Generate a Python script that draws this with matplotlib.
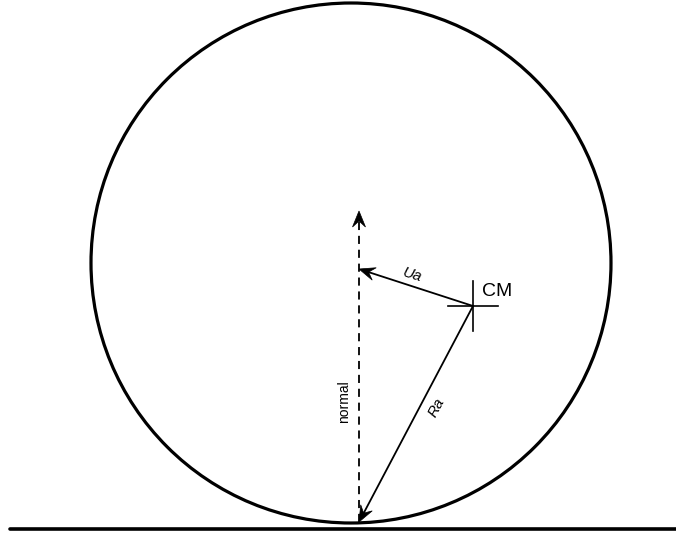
"""Rolling body diagram: circle on the ground, CM, normal, Ua and Ra vectors."""
import numpy as np
import matplotlib
matplotlib.use("Agg")
import matplotlib.pyplot as plt
from matplotlib.patches import Circle, Polygon

plt.rcParams["font.family"] = ["Liberation Sans", "DejaVu Sans"]

# geometry (pixel units, y pointing down)
circle_center = (351, 263)
circle_radius = 260
ground_y = 529
ground_x = (10, 676)
contact = (359, 522)
normal_tip = (359, 211)
cm = (473, 306)
ua_tip = (359, 269)
cross_half = 25

labels = {"CM": "CM", "Ua": "Ua", "Ra": "Ra", "normal": "normal"}


def stealth_head(ax, start, tip, length=16, half_w=6.5, notch=10):
    """Barbed arrow head at `tip`, pointing away from `start`."""
    s, t = np.asarray(start, float), np.asarray(tip, float)
    d = (t - s) / np.hypot(*(t - s))
    n = np.array([-d[1], d[0]])
    base = t - d * length
    pts = [t, base + n * half_w, t - d * notch, base - n * half_w]
    ax.add_patch(Polygon(pts, closed=True, color="black", lw=0.5))
    return t - d * notch


fig = plt.figure(figsize=(6.76, 5.33), dpi=100)
ax = fig.add_axes([0, 0, 1, 1])
ax.set_xlim(0, 676)
ax.set_ylim(533, 0)
ax.set_aspect("equal")
ax.axis("off")

ax.add_patch(Circle(circle_center, circle_radius, fill=False, lw=2.3, color="black"))
ax.plot(ground_x, [ground_y, ground_y], color="black", lw=2.6, solid_capstyle="round")

# dashed normal
end = stealth_head(ax, contact, normal_tip)
ax.plot([contact[0], end[0]], [contact[1], end[1]], color="black", lw=1.3,
        dashes=(4.5, 3.2))

# Ua and Ra vectors from CM
for tip in (ua_tip, contact):
    end = stealth_head(ax, cm, tip)
    ax.plot([cm[0], end[0]], [cm[1], end[1]], color="black", lw=1.3)

# CM cross
ax.plot([cm[0] - cross_half, cm[0] + cross_half], [cm[1], cm[1]], color="black", lw=1.2)
ax.plot([cm[0], cm[0]], [cm[1] - cross_half, cm[1] + cross_half], color="black", lw=1.2)

ax.text(482, 291, labels["CM"], fontsize=14, ha="left", va="center")
ax.text(412, 275, labels["Ua"], fontsize=11, style="italic", rotation=-17,
        ha="center", va="center")
ax.text(437, 408, labels["Ra"], fontsize=11, style="italic", rotation=62,
        ha="center", va="center")
ax.text(344, 402, labels["normal"], fontsize=10, rotation=90, ha="center", va="center")

fig.savefig("out.png", dpi=100)
